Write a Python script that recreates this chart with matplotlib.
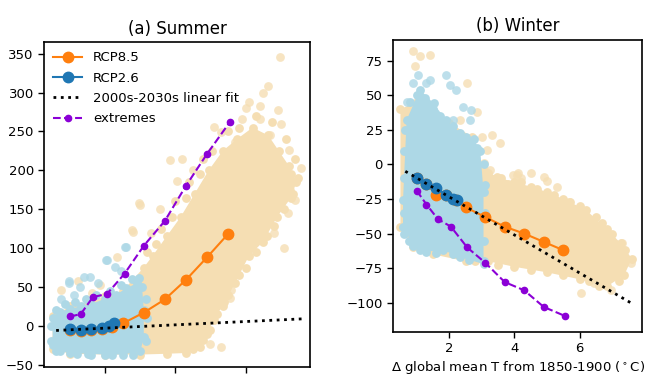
import numpy as np
import matplotlib
matplotlib.use("Agg")
import matplotlib.pyplot as plt

# model-mean curves (x = global warming, degC)
x_rcp85 = [1.0, 1.3, 1.6, 1.9, 2.2, 2.5, 3.1, 3.7, 4.3, 4.9, 5.5]
x_rcp26 = [1.0, 1.3, 1.6, 1.9, 2.1, 2.25]
x_ext = [1.0, 1.3, 1.65, 2.05, 2.55, 3.1, 3.7, 4.3, 4.9, 5.55]

summer_rcp85 = [-6, -7, -5, -4, -2, 3, 17, 34, 59, 88, 118]
summer_rcp26 = [-4, -6, -4, -3, 0, 3]
summer_ext = [12, 15, 37, 41, 67, 103, 135, 180, 221, 262]
summer_fit_x = [0.6, 7.65]
summer_fit_y = [-6, 9]

winter_rcp85 = [-10, -14, -22, -22, -26, -31, -38, -45, -50, -56, -62]
winter_rcp26 = [-10, -14, -17, -22, -25, -25.5]
winter_ext = [-19, -29, -39.5, -45, -60, -71, -85, -91, -103, -109.5]
winter_fit_x = [0.65, 7.57]
winter_fit_y = [-5, -100]

# ensemble clouds: outline of the dense part, members along its edge, scattered members
summer_tan_core_x = [0.5, 1.0, 2.0, 3.0, 3.75, 4.3, 4.7, 4.9, 5.1, 5.4, 5.7, 6.1, 6.5, 6.9, 7.3, 7.45,
                     7.25, 6.95, 6.65, 6.2, 5.75, 5.35, 4.95, 4.55, 4.15, 3.75, 3.35, 3.1, 2.5, 2.0, 1.5, 1.0, 0.5]
summer_tan_core_y = [-30, -36, -37, -37, -36, -35, -27, -10, 8, 30, 55, 90, 108, 140, 165, 185,
                     205, 225, 245, 255, 240, 225, 200, 170, 140, 115, 90, 75, 45, 38, 30, 25, 12]
summer_tan_edge_x = [4.5, 4.8, 5.0, 5.2, 5.35, 5.5, 5.8, 6.0, 6.3, 6.6, 6.8, 7.1, 7.35, 7.5,
                     3.2, 3.45, 3.6, 3.9, 4.0, 4.3, 4.4, 4.7, 4.8, 5.05, 5.5, 5.8, 6.3, 6.75, 7.15, 7.4, 7.3]
summer_tan_edge_y = [-30, -18, -5, 15, 25, 40, 65, 75, 95, 115, 128, 150, 170, 190,
                     95, 105, 125, 140, 160, 165, 185, 195, 215, 225, 250, 255, 270, 262, 240, 215, 195]
summer_tan_pts_x = [6.97, 6.65, 6.5, 6.1, 6.4, 6.94, 5.9, 6.4, 7.0, 5.7, 6.15, 6.7, 7.24, 7.58, 4.2, 5.1,
                    5.3, 3.85, 4.05, 2.97, 2.76, 2.33, 7.28, 7.4, 7.2, 5.7, 5.6, 5.3, 5.0, 2.99, 2.8, 0.73,
                    1.23, 1.86, 1.62, 0.54, 5.55, 4.5, 6.0, 3.3, 3.55, 6.8, 7.1]
summer_tan_pts_y = [346, 309, 300, 288, 283, 278, 266, 266, 260, 236, 233, 245, 226, 203, 215, 256,
                    249, 213, 186, 158, 123, 89, 175, 162, 145, 85, 46, -27, -24, 155, 121, 46,
                    57, 53, 42, -18, 36, 200, 280, 120, 150, 120, 100]
summer_blue_core_x = [0.5, 0.5, 0.7, 1.0, 1.3, 1.6, 2.0, 2.3, 2.6, 2.9, 3.05, 3.1, 3.1, 3.0, 2.5, 2.0, 1.5, 1.0, 0.6]
summer_blue_core_y = [-25, 10, 18, 22, 25, 28, 35, 40, 48, 55, 50, 20, -15, -33, -37, -37, -36, -35, -32]
summer_blue_edge_x = [0.6, 0.85, 1.15, 1.45, 1.75, 2.15, 2.45, 2.75, 2.95, 3.15, 3.2, 3.15,
                      2.8, 2.2, 1.6, 1.2, 0.7, 0.45, 0.45]
summer_blue_edge_y = [20, 28, 30, 35, 40, 45, 52, 60, 62, 35, 10, -20,
                      -38, -38, -37, -36, -33, -20, 0]
summer_blue_pts_x = [0.98, 1.27, 1.57, 2.01, 2.55, 2.6, 2.04, 0.96, 1.4, 2.29, 0.75, 1.1, 1.8, 2.45]
summer_blue_pts_y = [57, 50, 63, 85, 102, 102, 85, 55, 63, 76, 35, 40, 55, 70]

winter_tan_core_x = [0.5, 1.0, 2.0, 2.7, 3.06, 3.47, 3.98, 4.5, 5.0, 5.5, 6.2, 6.85, 7.26, 7.6,
                     7.37, 6.85, 6.0, 5.0, 4.0, 3.2, 2.5, 1.5, 0.9, 0.5]
winter_tan_core_y = [40, 45, 30, 20, -4, -9, -13, -16, -20, -25, -33, -47, -57, -68,
                     -80, -88, -83, -78, -74, -70, -70, -65, -60, -45]
winter_tan_edge_x = [3.2, 3.6, 3.8, 4.2, 4.7, 5.2, 5.7, 6.0, 6.5, 6.7, 7.0, 7.4,
                     7.2, 6.6, 6.3, 5.5, 4.5, 3.5, 2.8]
winter_tan_edge_y = [-6, -10, -14, -13, -18, -22, -27, -30, -38, -42, -50, -62,
                     -84, -88, -84, -80, -76, -73, -70]
winter_tan_pts_x = [0.9, 1.1, 1.4, 0.95, 2.53, 2.33, 2.84, 3.3, 3.56, 3.0, 3.15, 3.05, 3.25, 3.97, 4.1,
                    4.08, 4.5, 4.9, 5.3, 5.67, 6.85, 7.3, 7.57, 6.03, 6.95, 6.44, 5.0, 4.2]
winter_tan_pts_y = [81.6, 78, 79, 70.7, 58.7, 32, 38, 21, 15.4, 20, 10.5, 1, -4, -7.6, -6,
                    -7.6, -6.4, -8.8, -16, -27, -53, -57, -71, -93, -91, -86, -12, -10]
winter_blue_core_x = [0.58, 0.69, 1.1, 1.52, 1.9, 2.33, 2.75, 2.95, 3.05, 3.05, 2.33, 1.82, 1.3, 0.9, 0.58]
winter_blue_core_y = [-26, 32, 54, 44, 32, 23, 18, 10, -20, -72, -67, -62, -63, -59, -45]
winter_blue_edge_x = [0.62, 0.6, 0.6, 0.62, 0.65, 0.8, 1.0, 1.25, 1.5, 1.7, 2.1, 2.5, 2.85,
                      3.08, 3.1, 3.1, 3.08, 3.05, 2.6, 2.1, 1.6, 1.1, 0.75]
winter_blue_edge_y = [-50, -35, -10, 10, 25, 45, 50, 48, 40, 35, 28, 20, 12,
                      0, -15, -35, -55, -70, -69, -65, -64, -62, -55]
winter_blue_pts_x = [0.9, 1.3, 1.9, 2.02, 2.2, 2.43, 2.68, 2.64, 2.12, 1.05, 1.4, 1.2, 0.7]
winter_blue_pts_y = [58.7, 58.7, 64.7, 57.5, 54, 41.8, 39, 32, 32, 64.7, 61, 46.6, 45]

tan = "#f5deb3"
blue = "#add8e6"
purple = "#8b00d6"

fig = plt.figure(figsize=(6.5, 3.9), dpi=100)
ax1 = fig.add_axes([0.068, 0.059, 0.409, 0.833])
ax2 = fig.add_axes([0.605, 0.149, 0.383, 0.749])


def draw_cloud(ax, cx, cy, ex, ey, px, py, color):
    ax.fill(cx, cy, color=color, lw=0, zorder=1)
    ax.scatter(cx + ex, cy + ey, s=40, color=color, lw=0, zorder=1)
    ax.scatter(px, py, s=40, color=color, lw=0, alpha=0.8, zorder=1)


def draw_panel(ax, tan_c, blue_c, y85, y26, yext, fx, fy):
    draw_cloud(ax, *tan_c, tan)
    draw_cloud(ax, *blue_c, blue)
    ax.plot(x_rcp85, y85, "-o", color="tab:orange", ms=7.5, lw=1.5, zorder=3, label="RCP8.5")
    ax.plot(x_rcp26, y26, "-o", color="tab:blue", ms=7.5, lw=1.5, zorder=4, label="RCP2.6")
    ax.plot(fx, fy, ":", color="black", lw=2, zorder=5, label="2000s-2030s linear fit")
    ax.plot(x_ext, yext, "--o", color=purple, ms=4.5, lw=1.5, zorder=3, label="extremes")
    for sp in ax.spines.values():
        sp.set_linewidth(1.2)
    ax.tick_params(labelsize=9.5, width=1, length=4)


draw_panel(ax1,
           (summer_tan_core_x, summer_tan_core_y, summer_tan_edge_x, summer_tan_edge_y,
            summer_tan_pts_x, summer_tan_pts_y),
           (summer_blue_core_x, summer_blue_core_y, summer_blue_edge_x, summer_blue_edge_y,
            summer_blue_pts_x, summer_blue_pts_y),
           summer_rcp85, summer_rcp26, summer_ext, summer_fit_x, summer_fit_y)
draw_panel(ax2,
           (winter_tan_core_x, winter_tan_core_y, winter_tan_edge_x, winter_tan_edge_y,
            winter_tan_pts_x, winter_tan_pts_y),
           (winter_blue_core_x, winter_blue_core_y, winter_blue_edge_x, winter_blue_edge_y,
            winter_blue_pts_x, winter_blue_pts_y),
           winter_rcp85, winter_rcp26, winter_ext, winter_fit_x, winter_fit_y)

ax1.set_xlim(0.26, 7.84)
ax1.set_ylim(-53, 365)
ax1.set_xticks([2, 4, 6])
ax1.set_xticklabels([])
ax1.set_yticks([-50, 0, 50, 100, 150, 200, 250, 300, 350])
ax1.set_title("(a) Summer", fontsize=12, pad=6)
ax1.legend(loc="upper left", frameon=False, fontsize=9.5, handlelength=2.2,
           borderaxespad=0.3, labelspacing=0.55)

ax2.set_xlim(0.28, 7.92)
ax2.set_ylim(-121, 90)
ax2.set_xticks([2, 4, 6])
ax2.set_yticks([-100, -75, -50, -25, 0, 25, 50, 75])
ax2.set_title("(b) Winter", fontsize=12, pad=6)
ax2.set_xlabel("Δ global mean T from 1850-1900 ($^\\circ$C)", fontsize=9.5, labelpad=3)

fig.savefig("out.png", dpi=100)
